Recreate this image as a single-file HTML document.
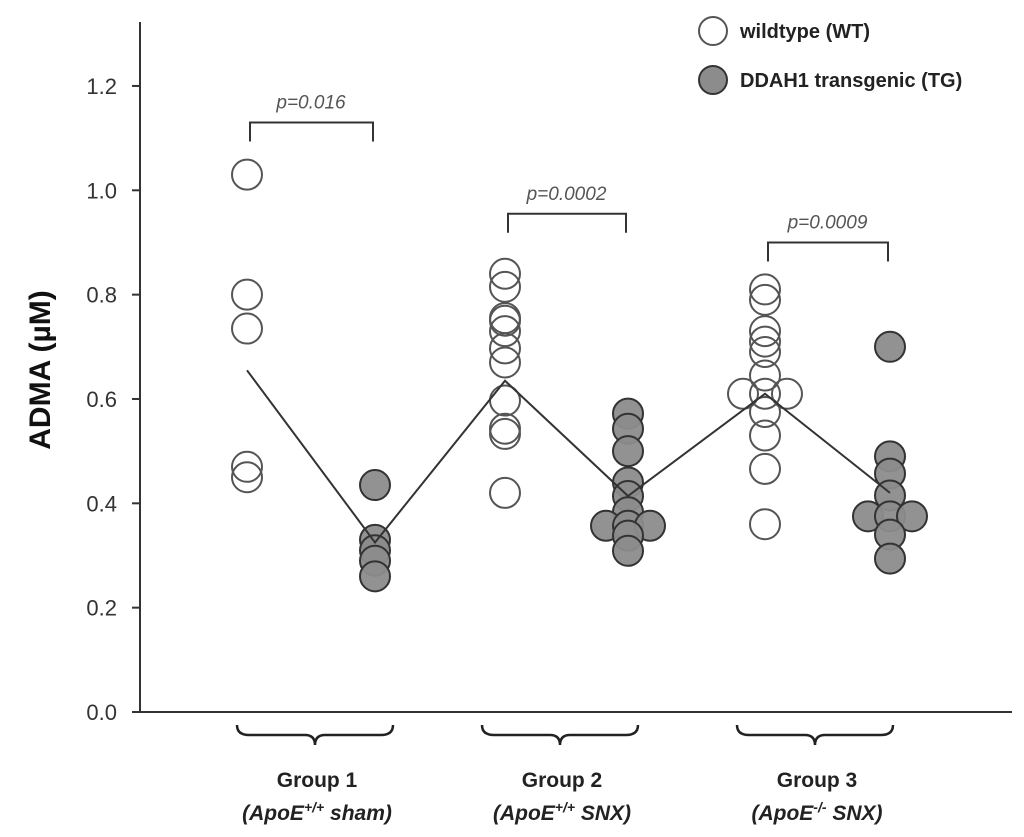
<!DOCTYPE html>
<html><head><meta charset="utf-8"><style>
html,body{margin:0;padding:0;background:#fff}
svg{display:block;font-family:"Liberation Sans",sans-serif}
</style></head><body>
<svg id="chart" width="1024" height="837" viewBox="0 0 1024 837">
<g id="axes"></g><g id="marks"></g><g id="annot"></g>
</svg>
<script>
const yTicks=[0.0,0.2,0.4,0.6,0.8,1.0,1.2];
const groups=["Group 1","Group 2","Group 3"];
const subLabels=[["ApoE","+/+"," sham"],["ApoE","+/+"," SNX"],["ApoE","-/-"," SNX"]];
const pValues=["p=0.016","p=0.0002","p=0.0009"];
const wt1=[1.03,0.80,0.735,0.47,0.45];
const tg1=[0.435,0.33,0.31,0.29,0.26];
const wt2=[0.84,0.815,0.755,0.75,0.73,0.697,0.67,0.597,0.543,0.533,0.42];
const tg2=[0.572,0.543,0.50,0.44,0.414,0.383,0.357,0.357,0.357,0.338,0.309];
const wt3=[0.81,0.79,0.73,0.71,0.69,0.645,0.61,0.61,0.61,0.575,0.53,0.466,0.36];
const tg3=[0.70,0.49,0.457,0.415,0.375,0.375,0.375,0.34,0.294];
const jitterWT=[[0,0,0,0,0],[0,0,0,0,0,0,0,0,0,0,0],[0,0,0,0,0,0,-1,0,1,0,0,0,0]];
const jitterTG=[[0,0,0,0,0],[0,0,0,0,0,0,-1,0,1,0,0],[0,0,0,0,-1,0,1,0,0]];
const means=[0.655,0.325,0.635,0.414,0.61,0.42];
const bracketLevels=[1.13,0.955,0.90];

const NS="http://www.w3.org/2000/svg";
const y0=712,yPer=521.7/1.0*1/1; // px per unit ≈ 521.7
function Y(v){return y0-v*521.7;}
const wtX=[247,505,765],tgX=[375,628,890];
const R=15;
function mk(tag,attrs,parent){const e=document.createElementNS(NS,tag);for(const k in attrs)e.setAttribute(k,attrs[k]);parent.appendChild(e);return e;}
const axes=document.getElementById('axes'),marks=document.getElementById('marks'),annot=document.getElementById('annot');

let e=mk('line',{x1:140,y1:22,x2:140,y2:y0,stroke:'#333','stroke-width':2},axes);

e=mk('line',{x1:132,y1:y0,x2:1012,y2:y0,stroke:'#333','stroke-width':2},axes);

yTicks.forEach(t=>{
 const l=mk('line',{x1:132,y1:Y(t),x2:140,y2:Y(t),stroke:'#333','stroke-width':2},axes);
 
 const tx=mk('text',{x:117,y:Y(t)+8,'text-anchor':'end','font-size':22,fill:'#333'},axes);
 tx.textContent=t.toFixed(1);
 
});
e=mk('text',{x:0,y:0,transform:'translate(50,370) rotate(-90)','text-anchor':'middle','font-size':30,'font-weight':'bold',fill:'#111'},axes);
e.textContent='ADMA (µM)';

// mean line
const pts=[];for(let g=0;g<3;g++){pts.push([wtX[g],Y(means[2*g])]);pts.push([tgX[g],Y(means[2*g+1])]);}
function drawPts(arr,x,jit,filled,name){
 arr.forEach((v,i)=>{
  const c=mk('circle',{cx:x+jit[i]*22,cy:Y(v),r:R,fill:filled?'#8c8c8c':'none',stroke:filled?'#333':'#555','stroke-width':2,'fill-opacity':filled?0.95:1},marks);
  
 });
}
[[wt1,tg1],[wt2,tg2],[wt3,tg3]].forEach((p,g)=>{
 drawPts(p[1],tgX[g],jitterTG[g],true,'tg-point');
 drawPts(p[0],wtX[g],jitterWT[g],false,'wt-point');
});
e=mk('polyline',{points:pts.map(p=>p.join(',')).join(' '),fill:'none',stroke:'#333','stroke-width':2},marks);


// brackets
for(let g=0;g<3;g++){
 const by=Y(bracketLevels[g]);
 const b=mk('path',{d:`M${wtX[g]+3},${by+19} V${by} H${tgX[g]-2} V${by+19}`,fill:'none',stroke:'#333','stroke-width':2},annot);
 
 const t=mk('text',{x:(wtX[g]+tgX[g])/2,y:by-14,'text-anchor':'middle','font-size':19,'font-style':'italic',fill:'#555'},annot);
 t.textContent=pValues[g];
 const cx=[315,560,815][g],w=78;
 const br=mk('path',{d:`M${cx-w},${725} q0,10 12,10 H${cx-10} q10,0 10,10 q0,-10 10,-10 H${cx+w-12} q12,0 12,-10`,fill:'none',stroke:'#222','stroke-width':2.5},annot);
 
 const gl=mk('text',{x:cx+2,y:787,'text-anchor':'middle','font-size':21,'font-weight':'bold',fill:'#222'},annot);
 gl.textContent=groups[g];
 const sl=mk('text',{x:cx+2,y:820,'text-anchor':'middle','font-size':21,'font-style':'italic','font-weight':'bold',fill:'#222'},annot);
 
 const s=subLabels[g];
 let a=mk('tspan',{},sl);a.textContent='('+s[0];
 a=mk('tspan',{'font-size':14,dy:-8},sl);a.textContent=s[1];
 a=mk('tspan',{dy:8},sl);a.textContent=s[2]+')';
}
// legend
e=mk('circle',{cx:713,cy:31,r:14,fill:'none',stroke:'#555','stroke-width':2},annot);

e=mk('text',{x:740,y:38,'font-size':20,'font-weight':'bold',fill:'#222'},annot);e.textContent='wildtype (WT)';

e=mk('circle',{cx:713,cy:80,r:14,fill:'#8c8c8c',stroke:'#333','stroke-width':2},annot);

e=mk('text',{x:740,y:87,'font-size':20,'font-weight':'bold',fill:'#222'},annot);e.textContent='DDAH1 transgenic (TG)';

</script>
</body></html>
